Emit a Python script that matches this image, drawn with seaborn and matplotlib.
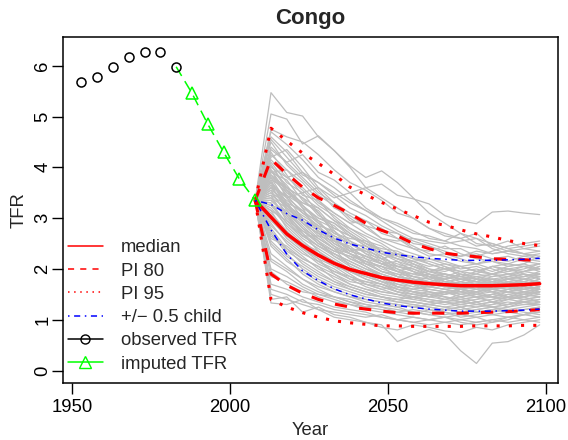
import numpy as np
import pandas as pd
import matplotlib
matplotlib.use("Agg")
import matplotlib.pyplot as plt
from matplotlib.lines import Line2D
import seaborn as sns

# observed and imputed TFR
obs_years = [1953, 1958, 1963, 1968, 1973, 1978, 1983]
obs_tfr = [5.67, 5.78, 5.97, 6.18, 6.27, 6.27, 5.98]
imp_years = [1988, 1993, 1998, 2003, 2008]
imp_tfr = [5.46, 4.85, 4.30, 3.77, 3.35]

# projection period
proj_years = [2008, 2013, 2018, 2023, 2028, 2033, 2038, 2043, 2048, 2053,
              2058, 2063, 2068, 2073, 2078, 2083, 2088, 2093, 2098]
median = [3.35, 3.02, 2.69, 2.46, 2.27, 2.11, 1.99, 1.91, 1.83, 1.78,
          1.74, 1.71, 1.69, 1.67, 1.67, 1.67, 1.68, 1.69, 1.71]
pi80_low = [3.35, 1.90, 1.68, 1.52, 1.40, 1.31, 1.25, 1.21, 1.17, 1.14,
            1.13, 1.13, 1.13, 1.13, 1.14, 1.15, 1.16, 1.18, 1.20]
pi80_high = [3.35, 4.16, 3.87, 3.61, 3.40, 3.25, 3.09, 2.90, 2.76, 2.65,
             2.50, 2.40, 2.31, 2.27, 2.24, 2.20, 2.19, 2.18, 2.17]
pi95_low = [3.35, 1.40, 1.25, 1.14, 1.05, 0.98, 0.94, 0.91, 0.88, 0.88,
            0.87, 0.87, 0.87, 0.87, 0.88, 0.88, 0.88, 0.89, 0.89]
pi95_high = [3.35, 4.77, 4.52, 4.28, 4.08, 3.86, 3.61, 3.46, 3.31, 3.18,
             3.05, 2.92, 2.86, 2.77, 2.69, 2.63, 2.56, 2.50, 2.46]
half_low = [3.35, 2.77, 2.29, 1.96, 1.77, 1.61, 1.49, 1.41, 1.33, 1.28,
            1.24, 1.21, 1.19, 1.17, 1.17, 1.17, 1.18, 1.19, 1.21]
half_high = [3.35, 3.27, 3.09, 2.96, 2.77, 2.61, 2.49, 2.41, 2.33, 2.28,
             2.24, 2.21, 2.19, 2.17, 2.17, 2.17, 2.18, 2.19, 2.21]

# trajectories, values for 2013..2098 (all start from the last imputed value)
trajectories = [
    [5.47, 5.08, 5.01, 4.60, 4.33, 4.03, 3.80, 3.93, 3.70, 3.40, 3.10, 2.90, 2.70, 2.60, 2.40, 2.30, 2.25, 2.20],
    [5.05, 4.95, 4.46, 4.62, 4.33, 4.00, 3.60, 3.40, 3.20, 3.00, 2.80, 2.65, 2.60, 2.70, 2.45, 2.35, 2.30, 2.25],
    [4.75, 4.60, 4.50, 4.25, 3.95, 3.70, 3.55, 3.35, 3.10, 3.00, 2.80, 2.70, 2.60, 2.45, 2.50, 2.40, 2.30, 2.20],
    [4.40, 4.10, 4.25, 3.90, 3.75, 3.50, 3.60, 3.67, 3.45, 3.38, 3.28, 3.05, 2.95, 2.89, 3.12, 3.14, 3.10, 3.07],
    [4.20, 4.35, 4.00, 3.60, 3.40, 3.50, 3.20, 3.00, 2.90, 2.75, 2.60, 2.55, 2.70, 2.50, 2.45, 2.55, 2.40, 2.45],
    [4.00, 3.80, 3.90, 3.70, 3.45, 3.20, 3.05, 2.85, 2.70, 2.50, 2.45, 2.35, 2.25, 2.30, 2.20, 2.15, 2.25, 2.30],
    [4.10, 3.70, 3.50, 3.60, 3.30, 3.00, 2.80, 2.60, 2.50, 2.40, 2.35, 2.45, 2.30, 2.20, 2.15, 2.10, 2.05, 2.10],
    [3.90, 3.95, 3.60, 3.30, 3.10, 2.90, 2.95, 2.70, 2.60, 2.45, 2.30, 2.25, 2.15, 2.10, 2.20, 2.25, 2.15, 2.10],
    [3.80, 3.50, 3.30, 3.20, 2.95, 2.80, 2.65, 2.50, 2.30, 2.20, 2.10, 2.00, 2.05, 1.95, 1.90, 2.00, 2.05, 2.00],
    [3.75, 3.60, 3.40, 3.05, 2.90, 2.70, 2.50, 2.40, 2.35, 2.20, 2.15, 2.05, 1.95, 1.90, 1.85, 1.90, 1.95, 1.90],
    [3.70, 3.30, 3.15, 2.90, 2.70, 2.60, 2.55, 2.35, 2.20, 2.10, 1.95, 1.90, 1.85, 1.80, 1.75, 1.80, 1.85, 1.90],
    [3.65, 3.40, 3.00, 2.80, 2.65, 2.50, 2.30, 2.20, 2.10, 2.00, 1.90, 1.85, 1.80, 1.75, 1.80, 1.85, 1.80, 1.85],
    [3.60, 3.20, 2.95, 2.75, 2.50, 2.35, 2.25, 2.15, 2.05, 1.95, 1.85, 1.80, 1.70, 1.75, 1.70, 1.65, 1.70, 1.75],
    [3.55, 3.35, 3.10, 2.85, 2.55, 2.45, 2.20, 2.00, 1.90, 1.85, 1.80, 1.70, 1.65, 1.60, 1.65, 1.70, 1.75, 1.70],
    [3.50, 3.10, 2.80, 2.60, 2.40, 2.30, 2.10, 1.95, 1.85, 1.80, 1.75, 1.70, 1.60, 1.55, 1.60, 1.65, 1.60, 1.65],
    [3.45, 3.25, 2.90, 2.70, 2.45, 2.20, 2.05, 1.90, 1.80, 1.70, 1.65, 1.60, 1.65, 1.70, 1.60, 1.55, 1.60, 1.65],
    [3.40, 3.00, 2.70, 2.45, 2.30, 2.15, 2.00, 1.85, 1.75, 1.70, 1.65, 1.60, 1.55, 1.60, 1.55, 1.60, 1.65, 1.60],
    [3.35, 3.05, 2.75, 2.55, 2.25, 2.10, 1.95, 1.80, 1.75, 1.65, 1.60, 1.55, 1.50, 1.55, 1.60, 1.55, 1.50, 1.55],
    [3.30, 2.90, 2.60, 2.40, 2.20, 2.00, 1.85, 1.75, 1.70, 1.60, 1.55, 1.50, 1.55, 1.50, 1.45, 1.50, 1.55, 1.60],
    [3.20, 2.85, 2.55, 2.30, 2.15, 1.95, 1.80, 1.70, 1.60, 1.55, 1.50, 1.45, 1.40, 1.45, 1.50, 1.55, 1.50, 1.45],
    [3.10, 2.75, 2.45, 2.20, 2.05, 1.85, 1.75, 1.65, 1.55, 1.50, 1.45, 1.40, 1.35, 1.40, 1.45, 1.40, 1.45, 1.50],
    [3.00, 2.60, 2.35, 2.10, 1.95, 1.80, 1.65, 1.55, 1.50, 1.45, 1.40, 1.35, 1.30, 1.35, 1.40, 1.45, 1.40, 1.45],
    [2.90, 2.50, 2.25, 2.00, 1.85, 1.70, 1.60, 1.50, 1.45, 1.40, 1.35, 1.30, 1.35, 1.30, 1.25, 1.30, 1.35, 1.40],
    [2.80, 2.40, 2.10, 1.90, 1.75, 1.60, 1.50, 1.45, 1.40, 1.35, 1.30, 1.25, 1.20, 1.25, 1.30, 1.35, 1.30, 1.30],
    [2.70, 2.30, 2.00, 1.80, 1.65, 1.55, 1.45, 1.40, 1.35, 1.30, 1.25, 1.20, 1.15, 1.20, 1.25, 1.20, 1.25, 1.30],
    [2.50, 2.20, 1.90, 1.70, 1.55, 1.45, 1.40, 1.35, 1.30, 1.25, 1.20, 1.15, 1.10, 1.15, 1.20, 1.15, 1.20, 1.25],
    [2.30, 2.05, 1.80, 1.60, 1.45, 1.35, 1.30, 1.25, 1.20, 1.15, 1.10, 1.05, 1.10, 1.05, 1.10, 1.15, 1.10, 1.15],
    [2.00, 1.85, 1.65, 1.50, 1.40, 1.30, 1.20, 1.15, 1.10, 1.05, 1.00, 1.05, 1.00, 0.95, 1.00, 1.05, 1.10, 1.05],
    [1.70, 1.60, 1.45, 1.35, 1.25, 1.20, 1.15, 1.05, 1.00, 0.95, 0.90, 0.95, 0.90, 0.95, 1.00, 0.95, 1.00, 1.05],
    [1.40, 1.45, 1.15, 1.25, 1.10, 1.05, 0.95, 0.90, 0.57, 0.70, 0.81, 0.72, 0.39, 0.14, 0.54, 0.57, 0.70, 0.90],
    [1.33, 1.30, 1.40, 1.20, 1.05, 1.00, 0.95, 0.85, 0.80, 0.90, 0.85, 0.78, 0.75, 0.85, 0.80, 0.90, 0.95, 1.00],
    [3.95, 3.40, 3.50, 3.10, 2.70, 2.55, 2.40, 2.20, 2.30, 2.10, 1.95, 2.05, 1.85, 1.90, 2.05, 1.95, 2.00, 2.10],
    [3.85, 3.55, 3.20, 2.70, 2.60, 2.40, 2.10, 2.05, 1.95, 2.05, 1.90, 1.80, 1.90, 1.85, 1.75, 1.85, 1.90, 1.80],
    [3.25, 3.15, 2.80, 2.50, 2.35, 2.25, 2.15, 2.05, 1.85, 1.75, 1.85, 1.75, 1.70, 1.65, 1.75, 1.70, 1.80, 1.75],
    [3.15, 2.95, 2.65, 2.65, 2.40, 2.05, 1.90, 1.85, 1.65, 1.60, 1.70, 1.65, 1.75, 1.70, 1.60, 1.75, 1.70, 1.60],
    [3.05, 2.70, 2.50, 2.35, 2.10, 1.90, 1.70, 1.60, 1.65, 1.55, 1.45, 1.55, 1.45, 1.50, 1.55, 1.45, 1.55, 1.50],
    [2.95, 2.65, 2.40, 2.20, 1.90, 1.75, 1.70, 1.60, 1.50, 1.40, 1.50, 1.40, 1.45, 1.35, 1.40, 1.50, 1.45, 1.35],
    [2.60, 2.45, 2.20, 2.05, 1.80, 1.65, 1.55, 1.45, 1.35, 1.35, 1.30, 1.35, 1.25, 1.30, 1.35, 1.25, 1.35, 1.40],
    [4.30, 3.85, 3.45, 3.35, 3.00, 2.75, 2.55, 2.45, 2.25, 2.15, 2.05, 2.10, 2.00, 2.05, 1.95, 2.05, 2.10, 2.00],
    [3.60, 3.45, 3.25, 2.95, 2.80, 2.65, 2.45, 2.30, 2.15, 2.05, 1.95, 2.00, 1.90, 1.80, 1.90, 1.85, 1.95, 2.05],
    [3.70, 3.25, 3.05, 2.85, 2.75, 2.40, 2.35, 2.25, 2.05, 1.95, 1.85, 1.75, 1.80, 1.75, 1.65, 1.75, 1.70, 1.80],
    [2.85, 2.55, 2.30, 2.15, 2.00, 1.80, 1.75, 1.70, 1.55, 1.50, 1.55, 1.45, 1.40, 1.45, 1.35, 1.40, 1.50, 1.45],
    [4.60, 4.30, 3.90, 3.55, 3.20, 3.05, 2.85, 2.75, 2.70, 2.55, 2.45, 2.30, 2.25, 2.35, 2.30, 2.35, 2.30, 2.35],
    [4.50, 4.05, 3.75, 3.45, 3.25, 2.95, 2.85, 2.60, 2.55, 2.60, 2.50, 2.40, 2.40, 2.25, 2.35, 2.45, 2.50, 2.55],
    [3.85, 3.45, 3.10, 2.95, 2.60, 2.35, 2.40, 2.20, 2.00, 1.85, 1.90, 1.75, 1.65, 1.70, 1.80, 1.70, 1.60, 1.65],
    [3.95, 3.65, 3.25, 3.00, 2.85, 2.55, 2.30, 2.10, 2.15, 1.95, 1.80, 1.85, 1.95, 1.80, 1.70, 1.80, 1.85, 1.95],
    [4.05, 3.55, 3.30, 3.15, 2.80, 2.65, 2.45, 2.25, 2.05, 2.00, 1.85, 1.70, 1.75, 1.85, 1.90, 1.80, 1.75, 1.70],
    [3.80, 3.30, 2.95, 2.65, 2.55, 2.30, 2.15, 1.95, 1.90, 1.75, 1.65, 1.70, 1.60, 1.55, 1.65, 1.75, 1.65, 1.55],
    [3.90, 3.75, 3.35, 3.10, 2.75, 2.50, 2.35, 2.15, 1.95, 1.90, 1.95, 1.85, 1.75, 1.65, 1.60, 1.55, 1.65, 1.75],
    [3.65, 3.15, 2.85, 2.55, 2.35, 2.25, 2.05, 1.85, 1.80, 1.70, 1.55, 1.50, 1.60, 1.65, 1.55, 1.45, 1.50, 1.60],
    [3.55, 3.05, 2.65, 2.45, 2.25, 2.05, 1.90, 1.80, 1.65, 1.55, 1.60, 1.55, 1.45, 1.50, 1.60, 1.65, 1.55, 1.50],
    [4.15, 3.80, 3.55, 3.25, 3.05, 2.80, 2.60, 2.35, 2.25, 2.15, 2.00, 1.95, 2.05, 2.10, 2.00, 1.90, 1.95, 2.05],
    [3.75, 3.20, 2.90, 2.70, 2.45, 2.30, 2.20, 2.10, 1.95, 1.80, 1.70, 1.65, 1.60, 1.70, 1.75, 1.80, 1.90, 1.85],
    [3.45, 2.95, 2.75, 2.50, 2.30, 2.10, 1.95, 1.85, 1.70, 1.65, 1.75, 1.70, 1.55, 1.45, 1.50, 1.60, 1.70, 1.80],
    [3.35, 3.10, 2.70, 2.35, 2.15, 2.00, 1.90, 1.75, 1.60, 1.50, 1.45, 1.50, 1.60, 1.55, 1.45, 1.40, 1.45, 1.55],
    [1.85, 1.75, 1.60, 1.45, 1.35, 1.30, 1.25, 1.20, 1.15, 1.10, 1.20, 1.15, 1.05, 1.10, 1.15, 1.20, 1.15, 1.10],
    [1.60, 1.50, 1.35, 1.30, 1.20, 1.15, 1.10, 1.05, 1.00, 1.05, 1.00, 0.95, 1.00, 1.05, 0.95, 1.00, 1.10, 1.15],
    [2.15, 1.95, 1.70, 1.55, 1.45, 1.40, 1.30, 1.25, 1.15, 1.20, 1.15, 1.10, 1.15, 1.20, 1.25, 1.15, 1.20, 1.25],
    [1.95, 1.70, 1.55, 1.50, 1.45, 1.35, 1.25, 1.30, 1.25, 1.15, 1.10, 1.20, 1.25, 1.15, 1.10, 1.05, 1.10, 1.20],
    [2.45, 2.15, 1.95, 1.75, 1.60, 1.50, 1.40, 1.35, 1.30, 1.25, 1.30, 1.25, 1.30, 1.35, 1.25, 1.30, 1.35, 1.30],
    [2.75, 2.35, 2.15, 1.95, 1.75, 1.65, 1.55, 1.45, 1.40, 1.45, 1.40, 1.35, 1.40, 1.30, 1.35, 1.45, 1.40, 1.35],
    [3.00, 2.70, 2.40, 2.15, 1.95, 1.85, 1.70, 1.65, 1.55, 1.45, 1.35, 1.40, 1.50, 1.45, 1.35, 1.30, 1.40, 1.45],
    [4.25, 3.95, 3.70, 3.35, 3.10, 2.90, 2.70, 2.55, 2.40, 2.30, 2.20, 2.15, 2.05, 1.95, 2.05, 2.10, 2.20, 2.15],
    [4.05, 3.60, 3.40, 3.20, 2.95, 2.70, 2.50, 2.35, 2.30, 2.25, 2.10, 2.00, 1.95, 2.00, 1.90, 1.95, 2.05, 1.95],
    [3.70, 3.40, 3.15, 2.80, 2.60, 2.35, 2.25, 2.10, 2.00, 1.90, 1.85, 1.90, 1.80, 1.75, 1.85, 1.90, 1.85, 1.90],
    [3.50, 3.30, 2.95, 2.75, 2.50, 2.30, 2.15, 2.05, 1.95, 1.85, 1.75, 1.80, 1.85, 1.75, 1.70, 1.65, 1.75, 1.85],
    [3.30, 2.80, 2.50, 2.30, 2.15, 1.95, 1.85, 1.75, 1.65, 1.60, 1.65, 1.60, 1.50, 1.55, 1.65, 1.60, 1.55, 1.60],
    [3.15, 2.65, 2.40, 2.25, 2.05, 1.95, 1.80, 1.70, 1.60, 1.55, 1.50, 1.55, 1.60, 1.50, 1.45, 1.55, 1.60, 1.55],
    [2.55, 2.25, 2.05, 1.85, 1.70, 1.60, 1.50, 1.45, 1.40, 1.35, 1.30, 1.35, 1.30, 1.25, 1.30, 1.40, 1.35, 1.30],
    [3.60, 3.25, 3.00, 2.80, 2.55, 2.40, 2.25, 2.10, 2.05, 2.10, 2.00, 1.90, 1.85, 1.95, 2.05, 2.00, 1.90, 1.85],
    [4.35, 4.10, 3.80, 3.50, 3.30, 3.10, 2.95, 2.80, 2.60, 2.40, 2.25, 2.30, 2.20, 2.10, 2.15, 2.05, 2.10, 2.25],
    [4.70, 4.45, 4.15, 3.80, 3.60, 3.35, 3.15, 3.00, 2.85, 2.70, 2.65, 2.55, 2.45, 2.40, 2.30, 2.35, 2.40, 2.35],
    [3.85, 3.60, 3.20, 3.00, 2.90, 2.65, 2.50, 2.30, 2.20, 2.15, 2.20, 2.10, 2.05, 1.95, 1.90, 2.00, 1.95, 2.00],
    [2.65, 2.40, 2.20, 2.05, 1.90, 1.70, 1.60, 1.55, 1.50, 1.45, 1.50, 1.45, 1.35, 1.40, 1.50, 1.45, 1.50, 1.55],
    [3.25, 2.90, 2.65, 2.45, 2.30, 2.15, 2.00, 1.90, 1.80, 1.75, 1.70, 1.65, 1.70, 1.80, 1.75, 1.65, 1.70, 1.75],
    [3.95, 3.50, 3.25, 2.90, 2.65, 2.50, 2.45, 2.30, 2.20, 2.05, 1.95, 1.90, 1.80, 1.85, 1.80, 1.75, 1.80, 1.90],
    [3.40, 3.20, 2.90, 2.60, 2.40, 2.20, 2.10, 1.95, 1.85, 1.80, 1.70, 1.75, 1.70, 1.60, 1.70, 1.80, 1.75, 1.65],
    [2.20, 2.00, 1.80, 1.65, 1.55, 1.45, 1.35, 1.30, 1.25, 1.30, 1.25, 1.20, 1.25, 1.15, 1.20, 1.25, 1.30, 1.35],
    [1.50, 1.40, 1.30, 1.20, 1.15, 1.10, 1.05, 1.10, 1.00, 0.95, 1.00, 1.05, 0.95, 0.90, 0.95, 1.05, 1.00, 0.95],
    [4.55, 4.20, 3.85, 3.70, 3.50, 3.30, 3.15, 2.95, 2.75, 2.60, 2.55, 2.50, 2.55, 2.60, 2.50, 2.40, 2.45, 2.50],
]

# long table of trajectories for seaborn
rows = []
for i, traj in enumerate(trajectories):
    vals = [imp_tfr[-1]] + traj
    for yr, v in zip(proj_years, vals):
        rows.append({"traj": i, "year": yr, "tfr": v})
traj_df = pd.DataFrame(rows)

sns.set_style("white")
plt.rcParams['font.family'] = ['Liberation Sans', 'DejaVu Sans']
FS = 13.3

fig = plt.figure(figsize=(5.68, 4.40), dpi=100)
ax = fig.add_axes([0.1109, 0.1295, 0.8715, 0.7875])

sns.lineplot(data=traj_df, x="year", y="tfr", units="traj", estimator=None,
             color="#BEBEBE", lw=0.9, ax=ax, legend=False)

red = "#FF0000"
blue = "#0000FF"
green = "#00FF00"

sns.lineplot(x=proj_years, y=median, color=red, lw=2.5, ax=ax)
for lo_hi in (pi80_low, pi80_high):
    sns.lineplot(x=proj_years, y=lo_hi, color=red, lw=2.2, ax=ax)
    ax.lines[-1].set_dashes((4, 4))
for lo_hi in (pi95_low, pi95_high):
    sns.lineplot(x=proj_years, y=lo_hi, color=red, lw=2.2, ax=ax)
    ax.lines[-1].set_dashes((1, 3))
for lo_hi in (half_low, half_high):
    sns.lineplot(x=proj_years, y=lo_hi, color=blue, lw=1.1, ax=ax)
    ax.lines[-1].set_dashes((1, 3, 4, 3))

# imputed (joined to last observed point)
ax.plot([obs_years[-1]] + imp_years, [obs_tfr[-1]] + imp_tfr, color=green,
        lw=1.1, dashes=(7, 4))
ax.plot(imp_years, imp_tfr, ls="none", marker="^", ms=9, mfc="none",
        mec=green, mew=1.1)
ax.plot(obs_years, obs_tfr, ls="none", marker="o", ms=6.5, mfc="none",
        mec="black", mew=1.1)

ax.set_xlim(1947.2, 2103.8)
ax.set_ylim(-0.245, 6.575)
ax.set_xticks([1950, 2000, 2050, 2100])
ax.set_yticks([0, 1, 2, 3, 4, 5, 6])
ax.set_yticklabels(["0", "1", "2", "3", "4", "5", "6"], rotation=90, va="center")
ax.tick_params(direction="out", length=8, width=1.0, labelsize=FS,
               left=True, bottom=True, color="black", labelcolor="black")
ax.tick_params(axis="x", pad=3.5)
ax.tick_params(axis="y", pad=0.5)
for sp in ax.spines.values():
    sp.set_color("black")
    sp.set_linewidth(1.1)

ax.set_xlabel("Year", fontsize=FS, labelpad=4)
ax.set_ylabel("TFR", fontsize=FS, labelpad=5)
ax.set_title("Congo", fontsize=16, fontweight="bold", pad=9)

handles = [
    Line2D([], [], color=red, lw=1.1),
    Line2D([], [], color=red, lw=1.1, dashes=(4, 4)),
    Line2D([], [], color=red, lw=1.1, dashes=(1, 3)),
    Line2D([], [], color=blue, lw=1.1, dashes=(1, 3, 4, 3)),
    Line2D([], [], color="black", lw=1.1, marker="o", ms=6.5, mfc="none"),
    Line2D([], [], color=green, lw=1.1, marker="^", ms=9, mfc="none"),
]
labels = ["median", "PI 80", "PI 95", "+/\u2212 0.5 child", "observed TFR", "imputed TFR"]
ax.legend(handles, labels, loc="lower left", bbox_to_anchor=(0.01, 0.03),
          frameon=False, fontsize=FS, handlelength=1.9, handletextpad=0.95,
          labelspacing=0.34, borderaxespad=0, borderpad=0)

fig.savefig("out.png", dpi=100)
